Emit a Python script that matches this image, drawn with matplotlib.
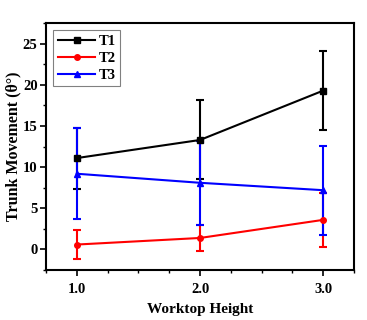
import matplotlib.pyplot as plt
from matplotlib.ticker import MultipleLocator

plt.rcParams['font.family'] = ['Liberation Serif', 'DejaVu Serif']
plt.rcParams['font.weight'] = 'bold'

heights = [1.0, 2.0, 3.0]
t1 = [11.1, 13.3, 19.3]
t1_err = [3.7, 4.8, 4.8]
t2 = [0.6, 1.4, 3.6]
t2_err = [1.8, 1.6, 3.3]
t3 = [9.2, 8.1, 7.2]
t3_err = [5.5, 5.1, 5.4]

fig = plt.figure(figsize=(3.67, 3.2), dpi=100)
ax = fig.add_axes([0.125, 0.156, 0.84, 0.772])

handles = []
for y, e, c, m, lab in [(t1, t1_err, 'black', 's', 'T1'),
                        (t2, t2_err, 'red', 'o', 'T2'),
                        (t3, t3_err, 'blue', '^', 'T3')]:
    eb = ax.errorbar(heights, y, yerr=e, color=c, marker=m, markersize=4,
                     linewidth=1.5, elinewidth=1.5, capsize=3, capthick=1.5)
    eb[0].set_label(lab)
    handles.append(eb[0])

ax.set_xlim(0.75, 3.25)
ax.set_ylim(-2.5, 27.5)
ax.set_xticks(heights)
ax.set_xticklabels(['1.0', '2.0', '3.0'])
ax.xaxis.set_minor_locator(MultipleLocator(0.25))
ax.yaxis.set_major_locator(MultipleLocator(5))
ax.yaxis.set_minor_locator(MultipleLocator(2.5))
ax.tick_params(which='major', direction='out', length=4, width=1.2, labelsize=10.5)
ax.tick_params(axis='x', which='major', pad=5)
ax.tick_params(axis='y', which='major', pad=2)
ax.tick_params(which='minor', direction='out', length=2.5, width=1.0)
for s in ax.spines.values():
    s.set_linewidth(1.5)

ax.set_xlabel('Worktop Height', fontsize=11, fontweight='bold', labelpad=5)
ax.set_ylabel('Trunk Movement (θ°)', fontsize=11.5, fontweight='bold', labelpad=1)

leg = ax.legend(handles=handles, loc='upper left', fontsize=10.5, handlelength=2.6,
                handletextpad=0.2, borderpad=0.3, labelspacing=0.25, fancybox=False,
                framealpha=1, borderaxespad=0.5)
leg.get_frame().set_edgecolor('gray')
leg.get_frame().set_linewidth(0.8)

plt.savefig('out.png', dpi=100)
